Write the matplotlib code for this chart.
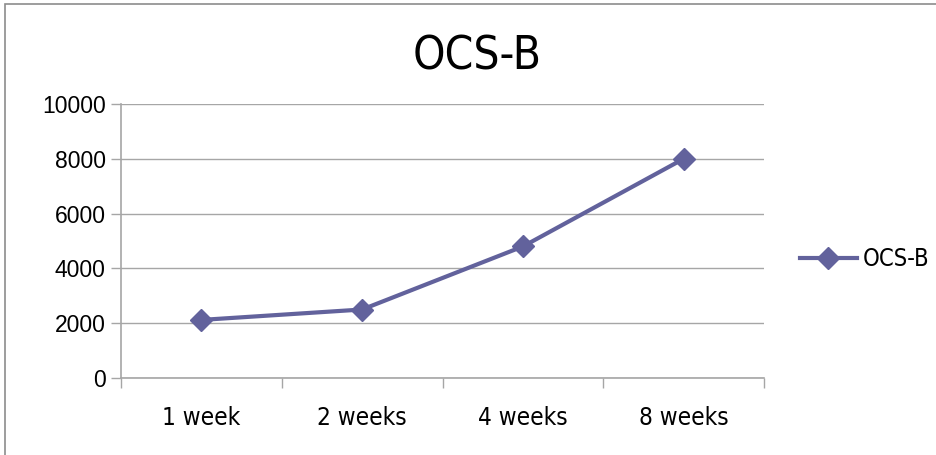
import matplotlib
matplotlib.use("Agg")
import matplotlib.pyplot as plt
from matplotlib.patches import Rectangle

categories = ["1 week", "2 weeks", "4 weeks", "8 weeks"]
series_name = "OCS-B"
values = [2120, 2500, 4800, 8000]
y_ticks = [0, 2000, 4000, 6000, 8000, 10000]

line_color = "#62629C"
grid_color = "#A6A6A6"

fig = plt.figure(figsize=(9.36, 4.55), dpi=100)
fig.patch.set_facecolor("white")

# chart frame
fig.add_artist(Rectangle((5 / 936, -0.05), 1.2, 1 - 4 / 455 + 0.05,
                         transform=fig.transFigure, fill=False,
                         edgecolor="#8C8C8C", linewidth=1.2))

ax = fig.add_axes([121 / 936, 1 - 378 / 455, 643 / 936, 274 / 455])
x = list(range(len(categories)))
ax.plot(x, values, color=line_color, linewidth=3, marker="D",
        markersize=11, label=series_name, zorder=3)

ax.set_xlim(-0.5, len(categories) - 0.5)
ax.set_ylim(0, 10000)
ax.set_yticks(y_ticks)
ax.set_yticklabels([str(v) for v in y_ticks], fontfamily="Liberation Sans",
                   fontsize=16.5)
ax.yaxis.grid(True, color=grid_color, linewidth=1)
ax.set_axisbelow(True)

# category labels centred, tick marks on category boundaries
ax.set_xticks([i - 0.5 for i in range(len(categories) + 1)])
ax.set_xticklabels([])
ax.set_xticks(x, minor=True)
ax.set_xticklabels(categories, minor=True, fontfamily="DejaVu Sans",
                   fontstretch="condensed", fontsize=17.5)
ax.tick_params(axis="x", which="minor", length=0, pad=20)
ax.tick_params(axis="x", which="major", length=7, color=grid_color, width=1)
ax.tick_params(axis="y", length=7, color=grid_color, width=1, pad=4)

for side in ("top", "right"):
    ax.spines[side].set_visible(False)
for side in ("left", "bottom"):
    ax.spines[side].set_color(grid_color)
    ax.spines[side].set_linewidth(1.2)

fig.text(477 / 936, 1 - 57 / 455, series_name, ha="center", va="center",
         fontfamily="DejaVu Sans", fontstretch="condensed", fontsize=33)

leg = fig.legend(loc="center left", bbox_to_anchor=(800 / 936, 1 - 259 / 455),
                 frameon=False, handlelength=2.4, handletextpad=0.25,
                 borderpad=0, borderaxespad=0,
                 prop={"family": "DejaVu Sans", "stretch": "condensed",
                       "size": 17})

fig.savefig("out.png", dpi=100, facecolor="white")
